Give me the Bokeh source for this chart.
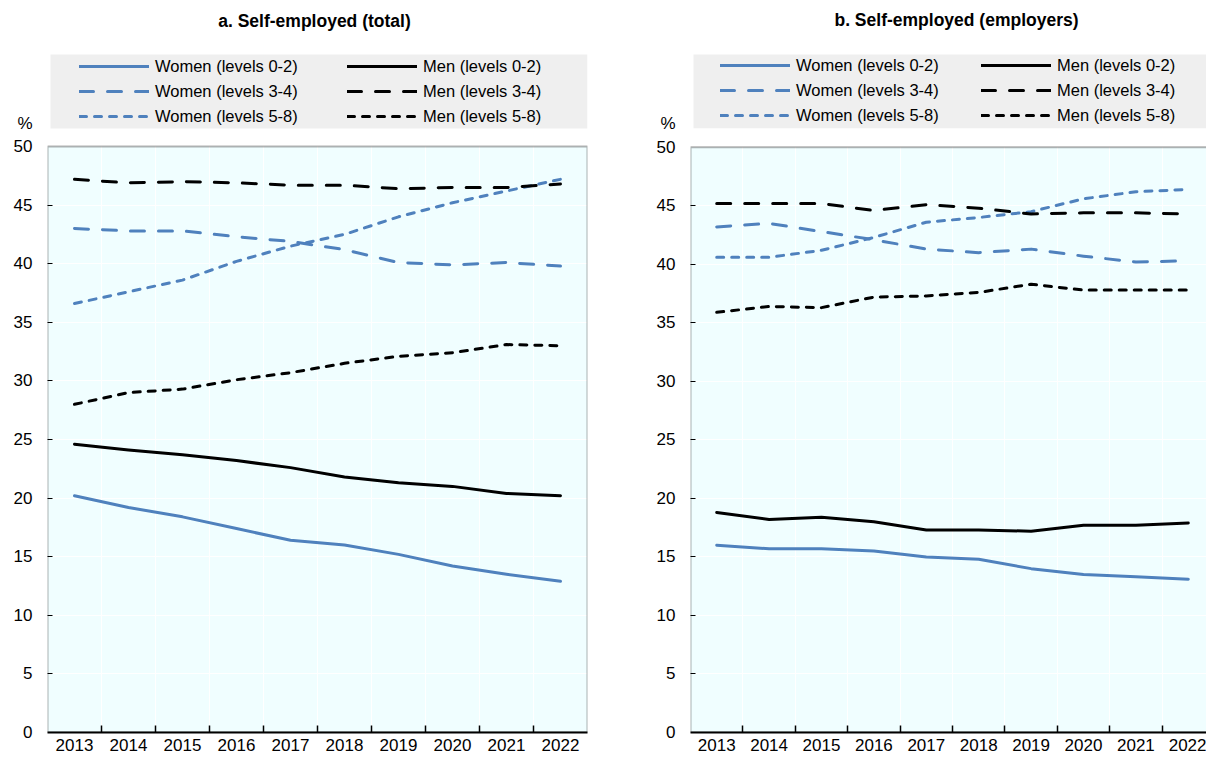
from bokeh.plotting import figure
from bokeh.layouts import row
from bokeh.models import (Range1d, FixedTicker, BoxAnnotation, Label, Legend,
                          LegendItem, ColumnDataSource)
from bokeh.embed import file_html
from bokeh.resources import INLINE

# ---------------- data ----------------
years = [2013, 2014, 2015, 2016, 2017, 2018, 2019, 2020, 2021, 2022]
y_ticks = [0, 5, 10, 15, 20, 25, 30, 35, 40, 45, 50]
unit_label = "%"

# a. Self-employed (total)
women_02_total = [20.2, 19.2, 18.4, 17.4, 16.4, 16.0, 15.2, 14.2, 13.5, 12.9]
men_02_total = [24.6, 24.1, 23.7, 23.2, 22.6, 21.8, 21.3, 21.0, 20.4, 20.2]
women_34_total = [43.0, 42.8, 42.8, 42.3, 41.9, 41.2, 40.1, 39.9, 40.1, 39.8]
men_34_total = [47.2, 46.9, 47.0, 46.9, 46.7, 46.7, 46.4, 46.5, 46.5, 46.8]
women_58_total = [36.6, 37.6, 38.6, 40.2, 41.5, 42.5, 44.0, 45.2, 46.2, 47.2]
men_58_total = [28.0, 29.0, 29.3, 30.1, 30.7, 31.5, 32.1, 32.4, 33.1, 33.0]

# b. Self-employed (employers)
women_02_emp = [16.0, 15.7, 15.7, 15.5, 15.0, 14.8, 14.0, 13.5, 13.3, 13.1]
men_02_emp = [18.8, 18.2, 18.4, 18.0, 17.3, 17.3, 17.2, 17.7, 17.7, 17.9]
women_34_emp = [43.2, 43.5, 42.8, 42.1, 41.3, 41.0, 41.3, 40.7, 40.2, 40.3]
men_34_emp = [45.2, 45.2, 45.2, 44.6, 45.1, 44.8, 44.3, 44.4, 44.4, 44.3]
women_58_emp = [40.6, 40.6, 41.2, 42.3, 43.6, 44.0, 44.5, 45.6, 46.2, 46.4]
men_58_emp = [35.9, 36.4, 36.3, 37.2, 37.3, 37.6, 38.3, 37.8, 37.8, 37.8]

series_labels = ["Women (levels 0-2)", "Women (levels 3-4)", "Women (levels 5-8)",
                 "Men (levels 0-2)", "Men (levels 3-4)", "Men (levels 5-8)"]
panel_titles = ["a. Self-employed (total)", "b. Self-employed (employers)"]

# ---------------- style ----------------
FONT = "Liberation Sans"
BLUE = "#4F81BD"
BLACK = "#000000"
DASHES = ["solid", "14 14", "7 8"]
BG = "#F0FEFF"
LEG_BG = "#EFEFEF"
UNIT_POS = 52


def make_panel(title, women, men, width, border_left, border_right, border_bottom,
               x_standoff, px_per_x, px_per_y, frame_bottom_px, frame_left_px,
               frame_right_px, leg_x_women, leg_x_men, title_x_px, leg_box_left_px):
    y_top = frame_bottom_px / px_per_y
    x_end = 2012.5 + (frame_right_px - frame_left_px) / px_per_x
    p = figure(width=width, height=761, output_backend="svg", toolbar_location=None,
               x_range=Range1d(2012.5, x_end), y_range=Range1d(0, y_top),
               min_border_left=border_left, min_border_right=border_right,
               min_border_top=0, min_border_bottom=border_bottom,
               outline_line_color=None, background_fill_color="white",
               border_fill_color="white")

    def sx(px):
        return 2012.5 + (px - frame_left_px) / px_per_x

    def sy(py):
        return (frame_bottom_px - py) / px_per_y

    # plot-area background and border
    p.add_layout(BoxAnnotation(left=2012.5, right=2022.5, bottom=0, top=50,
                               fill_color=BG, fill_alpha=1, line_color=None,
                               level="image"))
    p.add_layout(BoxAnnotation(left=2012.5, right=2022.5, bottom=0, top=50,
                               fill_alpha=0, line_color=BLACK, line_width=2,
                               level="annotation"))
    # legend background
    p.add_layout(BoxAnnotation(left=sx(leg_box_left_px), right=2022.5,
                               bottom=sy(128), top=sy(54),
                               fill_color=LEG_BG, fill_alpha=1, line_color=None,
                               level="guide"))

    # grids
    bounds = [y + 0.5 for y in years[:-1]]
    p.xgrid.ticker = FixedTicker(ticks=bounds)
    p.xgrid.grid_line_color = "white"
    p.xgrid.grid_line_width = 1
    p.ygrid.ticker = FixedTicker(ticks=y_ticks[1:-1])
    p.ygrid.grid_line_color = "white"
    p.ygrid.grid_line_width = 1

    # axes
    xa = p.xaxis[0]
    xa.ticker = FixedTicker(ticks=years, minor_ticks=bounds)
    xa.bounds = (2012.5, 2022.5)
    xa.axis_line_color = BLACK
    xa.axis_line_width = 2
    xa.major_tick_in = 0
    xa.major_tick_out = 0
    xa.minor_tick_in = 7
    xa.minor_tick_out = 0
    xa.minor_tick_line_color = BLACK
    xa.minor_tick_line_width = 1.5
    xa.major_label_text_font = FONT
    xa.major_label_text_font_size = "17px"
    xa.major_label_text_color = BLACK
    xa.major_label_standoff = x_standoff

    ya = p.yaxis[0]
    ya.ticker = FixedTicker(ticks=y_ticks + [UNIT_POS], minor_ticks=y_ticks[1:-1])
    ya.major_label_overrides = {UNIT_POS: unit_label}
    ya.axis_line_color = None
    ya.major_tick_in = 0
    ya.major_tick_out = 0
    ya.minor_tick_in = 5
    ya.minor_tick_out = 0
    ya.minor_tick_line_color = BLACK
    ya.minor_tick_line_width = 1
    ya.major_label_text_font = FONT
    ya.major_label_text_font_size = "17px"
    ya.major_label_text_color = BLACK
    ya.major_label_standoff = 15

    # lines
    women_r, men_r = [], []
    for vals, dash in zip(women, DASHES):
        src = ColumnDataSource(dict(x=years, y=vals))
        women_r.append(p.line("x", "y", source=src, line_color=BLUE, line_width=3,
                              line_dash=dash, line_cap="round", line_join="round"))
    for vals, dash in zip(men, DASHES):
        src = ColumnDataSource(dict(x=years, y=vals))
        men_r.append(p.line("x", "y", source=src, line_color=BLACK, line_width=3,
                            line_dash=dash, line_cap="round", line_join="round"))

    legend_y = frame_bottom_px - 127
    for rs, labels, lx in ((women_r, series_labels[:3], leg_x_women),
                           (men_r, series_labels[3:], leg_x_men)):
        leg = Legend(items=[LegendItem(label=l, renderers=[r]) for l, r in zip(labels, rs)],
                     location=(lx - frame_left_px, legend_y),
                     orientation="vertical", glyph_width=70, glyph_height=22,
                     label_height=22, label_standoff=6, spacing=3, padding=0, margin=0,
                     border_line_color=None, background_fill_alpha=0,
                     label_text_font=FONT, label_text_font_size="16.5px",
                     label_text_color=BLACK)
        p.add_layout(leg)

    p.add_layout(Label(x=sx(title_x_px), y=sy(20), text=title, text_align="center",
                       text_baseline="middle", text_font=FONT, text_font_style="bold",
                       text_font_size="17.5px", text_color=BLACK))
    return p


p1 = make_panel(panel_titles[0],
                [women_02_total, women_34_total, women_58_total],
                [men_02_total, men_34_total, men_58_total],
                width=603, border_left=47, border_right=16, border_bottom=29,
                x_standoff=6, px_per_x=54.0, px_per_y=(732 - 146) / 50,
                frame_bottom_px=732, frame_left_px=47, frame_right_px=587,
                leg_x_women=79, leg_x_men=347, title_x_px=314,
                leg_box_left_px=50)

p2 = make_panel(panel_titles[1],
                [women_02_emp, women_34_emp, women_58_emp],
                [men_02_emp, men_34_emp, men_58_emp],
                width=603, border_left=87, border_right=0, border_bottom=28,
                x_standoff=6, px_per_x=52.4, px_per_y=(733 - 147) / 50,
                frame_bottom_px=733, frame_left_px=690, frame_right_px=1206,
                leg_x_women=720, leg_x_men=981, title_x_px=956,
                leg_box_left_px=693)

layout = row(p1, p2)
open("out.html", "w").write(file_html(layout, INLINE))
